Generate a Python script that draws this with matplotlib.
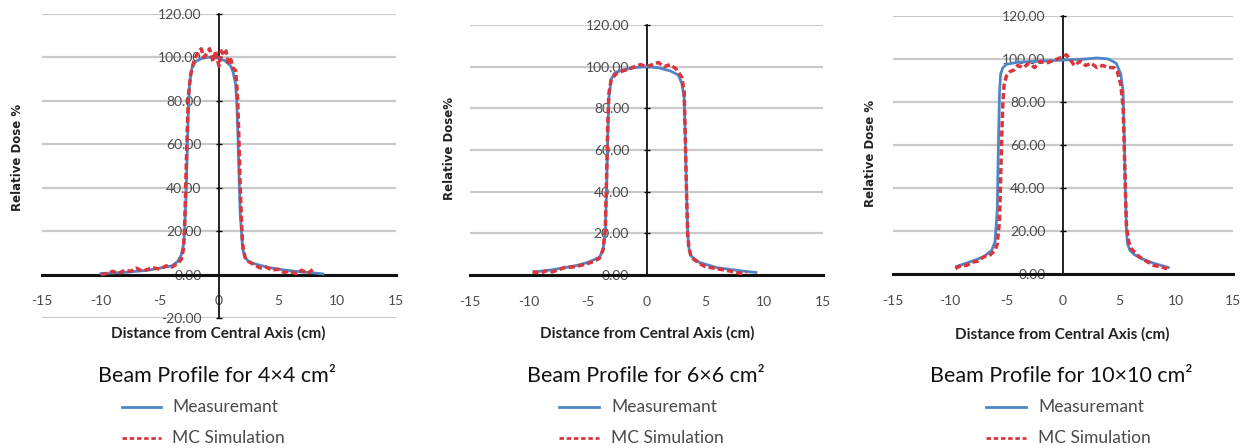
import matplotlib
matplotlib.use("Agg")
import matplotlib.pyplot as plt
from matplotlib.lines import Line2D

plt.rcParams['font.family'] = ['Lato', 'DejaVu Sans']

W, H = 1251, 448

# ---------------- data ----------------
titles = ["Beam Profile for 4×4 cm²", "Beam Profile for 6×6 cm²", "Beam Profile for 10×10 cm²"]
ylabels = ["Relative Dose %", "Relative Dose%", "Relative Dose %"]
xlabel = "Distance from Central Axis (cm)"
series_names = ["Measuremant", "MC Simulation"]
x_ticks = [-15, -10, -5, 0, 5, 10, 15]
y_ticks_4 = [-20, 0, 20, 40, 60, 80, 100, 120]
y_ticks_6 = [0, 20, 40, 60, 80, 100, 120]
y_ticks_10 = [0, 20, 40, 60, 80, 100, 120]

# 4x4 field
meas4_x = [-10, -8, -6, -5, -4, -3.5, -3.2, -3.0, -2.9, -2.8, -2.7, -2.6, -2.5, -2.3, -2.0, -1.5, -1.0,
           -0.5, 0.0, 0.5, 1.0, 1.2, 1.4, 1.5, 1.6, 1.7, 1.8, 2.0, 2.2, 2.5, 3, 4, 5, 6, 7, 8, 8.8]
meas4_y = [0.5, 1.0, 2.0, 3.0, 4.0, 6, 9, 14, 22, 35, 55, 75, 88, 95, 98, 99.5, 100,
           100, 99.5, 98.5, 96, 93, 88, 80, 65, 45, 28, 12, 8, 6, 5, 3.5, 2.5, 1.8, 1.2, 0.8, 0.3]
mc4_x = [-10, -9.5, -9, -8.5, -8, -7.5, -7, -6.5, -6, -5.5, -5, -4.5, -4, -3.5, -3.2, -3.0, -2.9, -2.8,
         -2.7, -2.6, -2.4, -2.2, -2.0, -1.7, -1.5, -1.3, -1.0, -0.8, -0.5, -0.3, 0.0, 0.2, 0.4, 0.6, 0.8,
         1.0, 1.2, 1.4, 1.5, 1.6, 1.7, 1.8, 1.9, 2.0, 2.2, 2.5, 3.0, 3.5, 4, 4.5, 5, 5.5, 6, 6.5, 7, 7.5, 8]
mc4_y = [0, 0.5, 1.5, 0.5, 2, 1.5, 3, 1.5, 2.5, 3, 2.5, 4, 3.5, 5, 7, 12, 25, 45,
         65, 82, 92, 97, 100, 103, 104, 100, 102, 104, 98, 103, 96, 103, 101, 103, 97,
         99, 95, 94, 88, 78, 60, 40, 25, 14, 8, 6, 4.5, 3, 3.5, 2, 2.5, 1, 1.5, 0.5, 2, 0.5, 2.5]

# 6x6 field
meas6_x = [-9.5, -8, -6, -5, -4, -3.7, -3.5, -3.4, -3.3, -3.2, -3.0, -2.7, -2.0, -1, 0, 1, 2, 2.7,
           3.0, 3.2, 3.3, 3.4, 3.5, 3.6, 3.8, 4.5, 6, 8, 9.3]
meas6_y = [1.5, 2.5, 4.5, 6, 8.5, 12, 20, 40, 65, 85, 94, 97, 98.5, 99.5, 100, 99.5, 98, 96,
           92, 85, 65, 40, 20, 13, 9, 6, 3.5, 2, 1.2]
mc6_x = [-9.7, -9, -8.5, -8, -7, -6, -5, -4.5, -4, -3.7, -3.5, -3.4, -3.3, -3.2, -3.0, -2.5, -2.0,
         -1.5, -1, -0.5, 0, 0.5, 1.0, 1.5, 2.0, 2.5, 3.0, 3.2, 3.3, 3.4, 3.5, 3.6, 3.8, 4.5, 5, 6, 7, 8, 8.5]
mc6_y = [1.5, 1, 2, 1.5, 3.5, 4, 5.5, 6.5, 8, 12, 22, 45, 70, 87, 94, 97, 98,
         99, 100, 101, 100, 101, 102, 100, 101, 99, 95, 88, 65, 40, 20, 13, 8.5, 5.5, 4, 3, 2, 0.8, 1.5]

# 10x10 field
meas10_x = [-9.4, -8, -7, -6.3, -6, -5.8, -5.7, -5.6, -5.5, -5.3, -5, -4, -2, 0, 2, 3, 4, 4.7,
            5.1, 5.3, 5.4, 5.5, 5.6, 5.7, 5.9, 6.3, 7, 8, 9.3]
meas10_y = [3.5, 6, 8, 11, 15, 30, 60, 85, 93, 96, 97.5, 98.5, 99, 99.5, 100, 100.5, 100, 98,
            93, 85, 65, 40, 20, 14, 11, 9, 7, 5, 3]
mc10_x = [-9.5, -9, -8.5, -8, -7.5, -7, -6.5, -6.2, -6.0, -5.8, -5.6, -5.5, -5.4, -5.3, -5.2, -5.0,
          -4.7, -4.3, -4, -3.5, -3, -2.5, -2, -1.5, -1, -0.5, 0, 0.3, 0.6, 1, 1.5, 2, 2.5, 3, 3.5, 4,
          4.5, 4.8, 5.1, 5.3, 5.4, 5.5, 5.6, 5.8, 6, 6.5, 7, 7.5, 8, 8.5, 9.2]
mc10_y = [2.5, 4, 4, 5.5, 6, 8, 8.5, 10, 11, 14, 25, 45, 65, 80, 88, 92,
          94, 95, 97, 96, 98, 96, 99, 98, 99, 100, 101, 102, 100, 97, 99, 97, 98, 96, 97, 96,
          96, 94, 88, 78, 60, 40, 22, 15, 12, 9, 7, 5.5, 4, 3.5, 2.5]

# ---------------- layout (pixels) ----------------
BLUE = '#4f86c6'
RED = '#d9363e'
GRID = '#c9c9c9'
TXT = '#4a4a4a'

panels = [
    dict(box=(42, 396, 14, 318), ylim=(-20, 120), yt=y_ticks_4,
         mx=meas4_x, my=meas4_y, sx=mc4_x, sy=mc4_y,
         xl=(218, 333), yl=(18, 157), title=(217, 382), leg=(122, 161, 172)),
    dict(box=(470, 823, 25, 275), ylim=(0, 120), yt=y_ticks_6,
         mx=meas6_x, my=meas6_y, sx=mc6_x, sy=mc6_y,
         xl=(647, 333), yl=(449, 149), title=(646, 382), leg=(559, 599, 611)),
    dict(box=(893, 1233, 16, 274), ylim=(0, 120), yt=y_ticks_10,
         mx=meas10_x, my=meas10_y, sx=mc10_x, sy=mc10_y,
         xl=(1062, 334), yl=(870, 153), title=(1061, 382), leg=(986, 1026, 1038)),
]

fig = plt.figure(figsize=(W / 100, H / 100), dpi=100)
fig.patch.set_facecolor('white')


def fx(px):
    return px / W


def fy(py):
    return 1 - py / H


for i, p in enumerate(panels):
    x0, x1, ytop, ybot = p['box']
    ax = fig.add_axes([fx(x0), fy(ybot), (x1 - x0) / W, (ybot - ytop) / H])
    ax.set_xlim(-15, 15)
    ax.set_ylim(*p['ylim'])
    ax.set_xticks(x_ticks)
    ax.set_xticklabels([str(t) for t in x_ticks])
    ax.set_yticks(p['yt'])
    ax.set_yticklabels([f"{t:.2f}" for t in p['yt']])
    ax.set_facecolor('none')

    for s in ['top', 'right']:
        ax.spines[s].set_visible(False)
    ax.spines['left'].set_position(('data', 0))
    ax.spines['bottom'].set_position(('data', 0))
    ax.spines['left'].set_linewidth(1.3)
    ax.spines['left'].set_color('#111111')
    ax.spines['bottom'].set_linewidth(2.2)
    ax.spines['bottom'].set_color('#111111')

    ax.yaxis.grid(True, color=GRID, lw=1.6)
    ax.set_axisbelow(True)

    ax.tick_params(axis='x', length=0, pad=15, labelsize=10, labelcolor=TXT)
    ax.tick_params(axis='y', length=4, direction='inout', width=1, pad=10.5,
                   labelsize=10, labelcolor=TXT)

    ax.plot(p['mx'], p['my'], color=BLUE, lw=2.0, solid_joinstyle='round', zorder=3)
    ax.plot(p['sx'], p['sy'], color=RED, lw=2.5, dashes=(1.8, 0.9), zorder=4)

    # axis titles
    fig.text(fx(p['xl'][0]), fy(p['xl'][1]), xlabel, ha='center', va='center',
             fontsize=11, fontweight='bold', color='#222222')
    fig.text(fx(p['yl'][0]), fy(p['yl'][1]), ylabels[i], ha='center', va='center',
             rotation=90, fontsize=8.5, fontweight='bold', color='#222222',
             family=['DejaVu Sans'])

    # chart title below
    fig.text(fx(p['title'][0]), fy(p['title'][1]), titles[i], ha='center', va='baseline',
             fontsize=15.5, color='#111111')

    # legend
    lx0, lx1, tx = p['leg']
    fig.add_artist(Line2D([fx(lx0), fx(lx1)], [fy(407), fy(407)], transform=fig.transFigure,
                          color=BLUE, lw=2.0))
    fig.add_artist(Line2D([fx(lx0), fx(lx1)], [fy(438), fy(438)], transform=fig.transFigure,
                          color=RED, lw=2.0, dashes=(1.6, 1.0)))
    fig.text(fx(tx), fy(407), series_names[0], ha='left', va='center', fontsize=12.5, color=TXT)
    fig.text(fx(tx), fy(438), series_names[1], ha='left', va='center', fontsize=12.5, color=TXT)

fig.savefig('out.png', dpi=100)
